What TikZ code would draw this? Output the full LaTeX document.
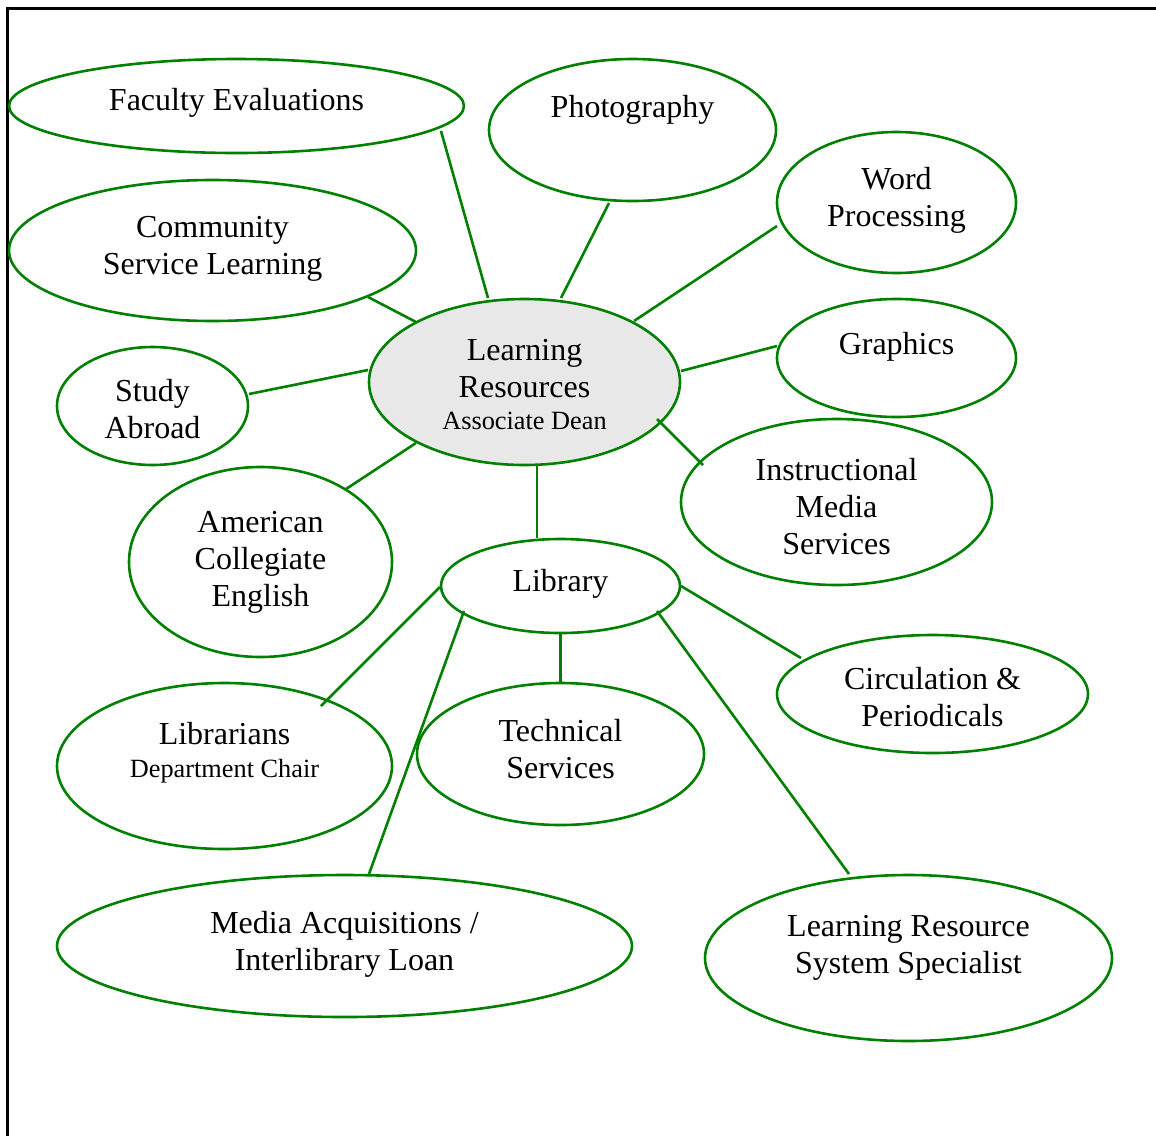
\documentclass[tikz,border=0pt]{standalone}
\usepackage{fontspec}
\setmainfont{Liberation Serif}
\usetikzlibrary{shapes.geometric}
\definecolor{linegreen}{RGB}{0,128,0}
\definecolor{hubgray}{RGB}{232,232,232}
\newcommand\txtblock[1]{\begin{tabular}[t]{@{}c@{}}#1\end{tabular}}
\newcommand\smalltxt{\fontsize{26.3}{30}\selectfont}
\begin{document}
\begin{tikzpicture}[x=1pt,y=-1pt,
  bubble/.style={ellipse, draw=linegreen, line width=2.6pt, inner sep=0pt},
  hub/.style={bubble, fill=hubgray},
  caption/.style={anchor=base, inner sep=0pt, font=\fontsize{32}{37}\selectfont},
  link/.style={draw=linegreen, line width=2.6pt},
  frame/.style={draw=black, line width=2.6pt}]
\useasboundingbox (0,0) rectangle (1156,1136);

% page frame (top and left edges)
\draw[frame] (7.5,1136) -- (7.5,8.7) -- (1156,8.7);

% bubbles
\node[bubble, minimum width=455pt, minimum height=94pt]  (fac)   at (236.5,106) {};
\node[bubble, minimum width=287pt, minimum height=142pt] (photo) at (632.5,130) {};
\node[bubble, minimum width=239pt, minimum height=141pt] (wp)    at (896.5,202.5) {};
\node[bubble, minimum width=407pt, minimum height=141pt] (csl)   at (212.5,250.5) {};
\node[bubble, minimum width=239pt, minimum height=118pt] (gfx)   at (896.5,358) {};
\node[hub,    minimum width=311pt, minimum height=166pt] (hubn)  at (524.5,382) {};
\node[bubble, minimum width=191pt, minimum height=118pt] (study) at (152.5,406) {};
\node[bubble, minimum width=311pt, minimum height=166pt] (ims)   at (836.5,502) {};
\node[bubble, minimum width=263pt, minimum height=190pt] (ace)   at (260.5,562) {};
\node[bubble, minimum width=239pt, minimum height=94pt]  (lib)   at (560.5,586) {};
\node[bubble, minimum width=311pt, minimum height=118pt] (circ)  at (932.5,694) {};
\node[bubble, minimum width=335pt, minimum height=166pt] (libn)  at (224.5,766) {};
\node[bubble, minimum width=287pt, minimum height=142pt] (tech)  at (560.5,754) {};
\node[bubble, minimum width=575pt, minimum height=142pt] (mail)  at (344.5,946) {};
\node[bubble, minimum width=407pt, minimum height=166pt] (lrss)  at (908.5,958) {};

% captions (anchored at the first baseline)
\node[caption] (fac-t)   at (236.5,110) {\txtblock{Faculty Evaluations}};
\node[caption] (photo-t) at (632.5,117) {\txtblock{Photography}};
\node[caption] (wp-t)    at (896.5,189) {\txtblock{Word\\Processing}};
\node[caption] (csl-t)   at (212.5,237) {\txtblock{Community\\Service Learning}};
\node[caption] (gfx-t)   at (896.5,354) {\txtblock{Graphics}};
\node[caption] (hubn-t)  at (524.5,360) {\txtblock{Learning\\Resources\\[-5pt]\smalltxt Associate Dean}};
\node[caption] (study-t) at (152.5,401) {\txtblock{Study\\Abroad}};
\node[caption] (ims-t)   at (836.5,480) {\txtblock{Instructional\\Media\\Services}};
\node[caption] (ace-t)   at (260.5,532) {\txtblock{American\\Collegiate\\English}};
\node[caption] (lib-t)   at (560.5,591) {\txtblock{Library}};
\node[caption] (circ-t)  at (932.5,689) {\txtblock{Circulation \&\\Periodicals}};
\node[caption] (libn-t)  at (224.5,744) {\txtblock{Librarians\\[-4pt]\smalltxt Department Chair}};
\node[caption] (tech-t)  at (560.5,741) {\txtblock{Technical\\Services}};
\node[caption] (mail-t)  at (344.5,933) {\txtblock{Media Acquisitions /\\Interlibrary Loan}};
\node[caption] (lrss-t)  at (908.5,936) {\txtblock{Learning Resource\\System Specialist}};

% connector end points
\coordinate (fac-a)   at (441,131); \coordinate (hub-fac)   at (488,298);
\coordinate (photo-a) at (609,203); \coordinate (hub-photo) at (561,298);
\coordinate (wp-a)    at (777,226); \coordinate (hub-wp)    at (634,321);
\coordinate (csl-a)   at (368,297); \coordinate (hub-csl)   at (416,322);
\coordinate (gfx-a)   at (777,346); \coordinate (hub-gfx)   at (681,371);
\coordinate (study-a) at (249,394); \coordinate (hub-study) at (368,370);
\coordinate (ims-a)   at (703,465); \coordinate (hub-ims)   at (657,419);
\coordinate (ace-a)   at (346,489); \coordinate (hub-ace)   at (416,443);
\coordinate (hub-lib) at (537,466); \coordinate (lib-hub)   at (537,538);
\coordinate (lib-libn) at (440,587); \coordinate (libn-a)   at (321,706);
\coordinate (lib-mail) at (464,611); \coordinate (mail-a)   at (369,874);
\coordinate (lib-tech) at (560.5,634); \coordinate (tech-a) at (560.5,682);
\coordinate (lib-lrss) at (657,611); \coordinate (lrss-a)   at (849,874);
\coordinate (lib-circ) at (681,586); \coordinate (circ-a)   at (801,658);

% connectors
\draw[link] (fac-a) -- (hub-fac);
\draw[link] (photo-a) -- (hub-photo);
\draw[link] (wp-a) -- (hub-wp);
\draw[link] (csl-a) -- (hub-csl);
\draw[link] (gfx-a) -- (hub-gfx);
\draw[link] (study-a) -- (hub-study);
\draw[link] (ims-a) -- (hub-ims);
\draw[link] (ace-a) -- (hub-ace);
\draw[link] (hub-lib) -- (lib-hub);
\draw[link] (lib-libn) -- (libn-a);
\draw[link] (lib-mail) -- (mail-a);
\draw[link] (lib-tech) -- (tech-a);
\draw[link] (lib-lrss) -- (lrss-a);
\draw[link] (lib-circ) -- (circ-a);
\end{tikzpicture}
\end{document}
